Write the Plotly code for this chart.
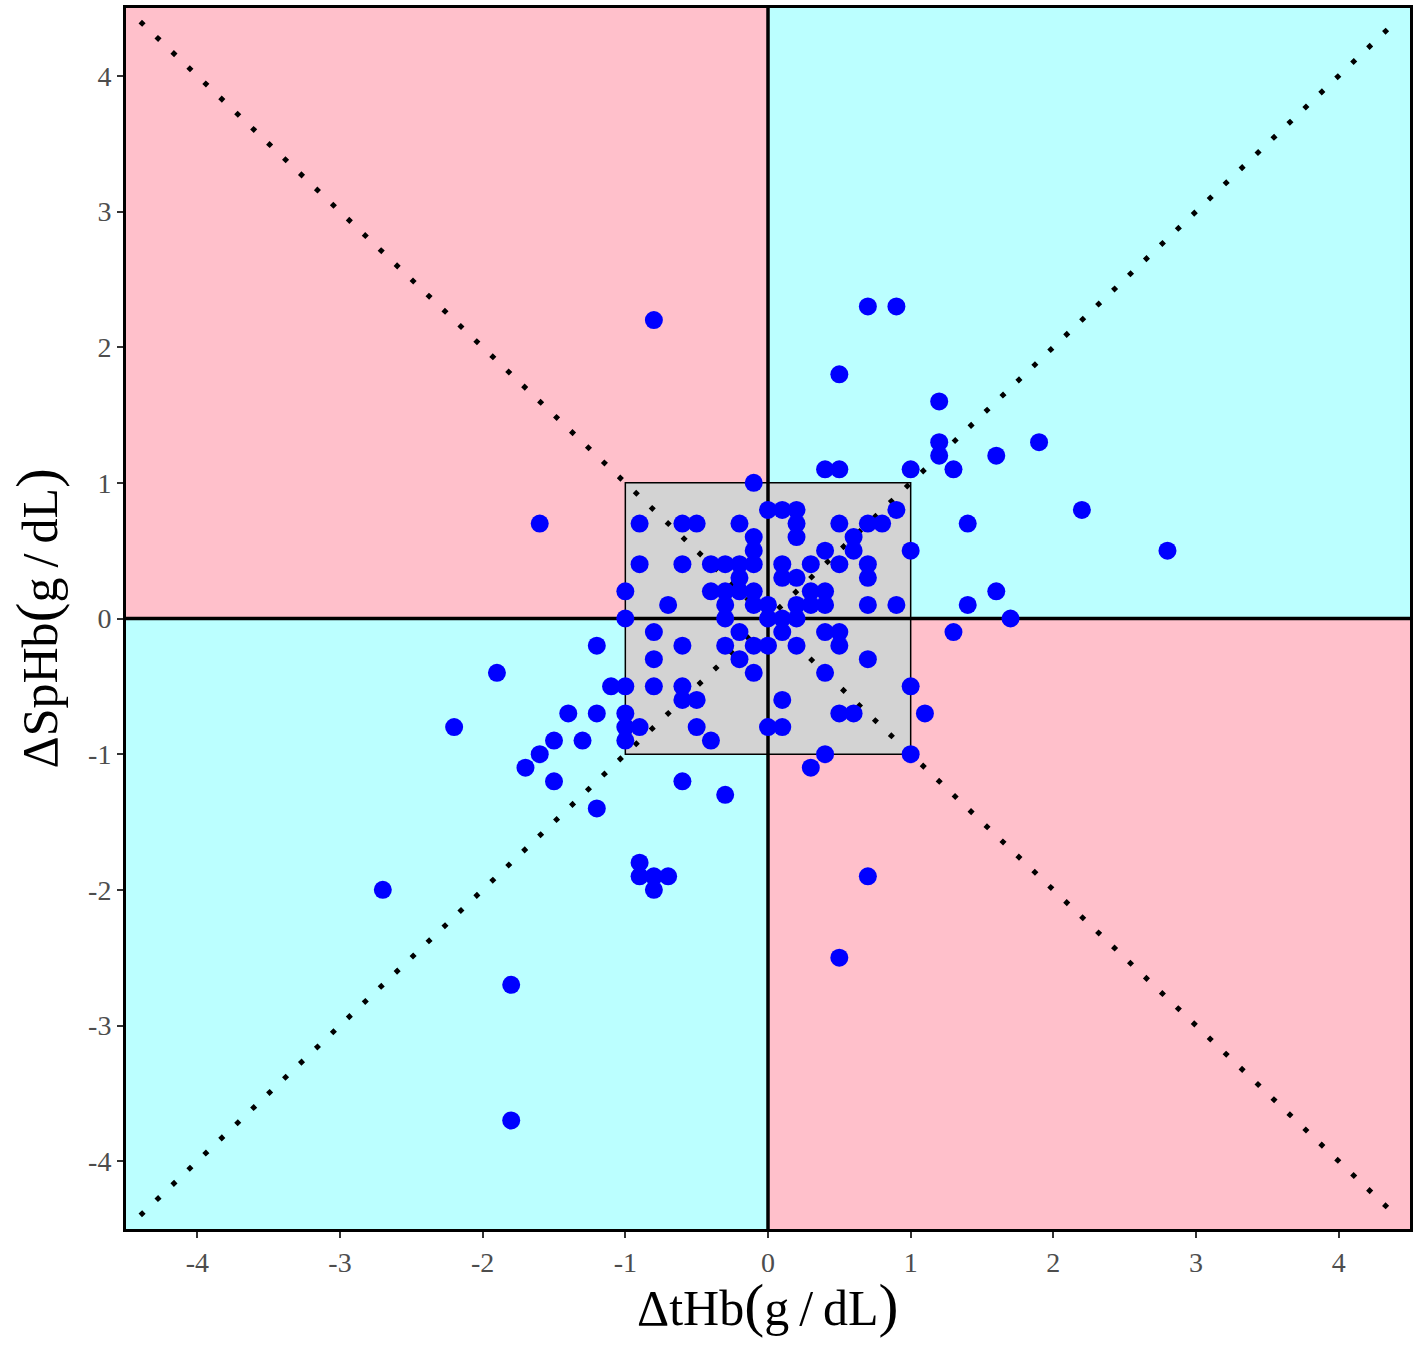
import plotly.graph_objects as go

# Data: ΔtHb (x) and ΔSpHb (y) in g/dL
dtHb = [
    -0.1, 0.0, 0.1, 0.2, 0.9,
    0.2, -0.9, -0.6, -0.5, -0.2, 0.5, 0.7, 0.8,
    0.2, -0.1, 0.6,
    -0.1, 0.4, 0.6, 1.0,
    -0.9, -0.6, -0.4, -0.3, -0.2, -0.1, 0.1, 0.3, 0.5, 0.7,
    -0.2, 0.1, 0.2, 0.7,
    -1.0, -0.4, -0.3, -0.2, -0.1, 0.3, 0.4,
    -0.7, -0.3, -0.1, 0.0, 0.2, 0.3, 0.4, 0.7, 0.9,
    -1.0, -0.3, 0.0, 0.1, 0.2,
    -0.8, -0.2, 0.1, 0.4, 0.5,
    -0.6, -0.3, -0.1, 0.0, 0.2, 0.5,
    -0.8, -0.2, 0.7,
    -0.1, 0.4,
    -1.1, -1.0, -0.8, -0.6, 1.0,
    -0.6, -0.5, 0.1,
    -1.0, 0.5, 0.6, 1.1,
    -1.0, -0.9, -0.5, 0.0, 0.1,
    -1.0, -0.4,
    0.4, 1.0,
    0.3,
    -1.2, -1.9, -1.4, -1.2, -2.2, -1.5, -1.3, -1.6, -1.7, -1.5, -1.2, -0.6, -0.3,
    -1.6, -0.8,
    -0.9, -0.9, -0.8, -0.7, -0.8,
    -2.7, -1.8, -1.8,
    0.7, 0.9, 0.5, 1.2, 1.2, 1.2, 1.0, 1.3, 0.4, 0.5, 1.6, 1.9, 2.2, 2.8, 1.4, 1.6, 1.4, 1.7, 1.3,
    0.7, 0.5,
]
dSpHb = [
    1.0, 0.8, 0.8, 0.8, 0.8,
    0.7, 0.7, 0.7, 0.7, 0.7, 0.7, 0.7, 0.7,
    0.6, 0.6, 0.6,
    0.5, 0.5, 0.5, 0.5,
    0.4, 0.4, 0.4, 0.4, 0.4, 0.4, 0.4, 0.4, 0.4, 0.4,
    0.3, 0.3, 0.3, 0.3,
    0.2, 0.2, 0.2, 0.2, 0.2, 0.2, 0.2,
    0.1, 0.1, 0.1, 0.1, 0.1, 0.1, 0.1, 0.1, 0.1,
    0.0, 0.0, 0.0, 0.0, 0.0,
    -0.1, -0.1, -0.1, -0.1, -0.1,
    -0.2, -0.2, -0.2, -0.2, -0.2, -0.2,
    -0.3, -0.3, -0.3,
    -0.4, -0.4,
    -0.5, -0.5, -0.5, -0.5, -0.5,
    -0.6, -0.6, -0.6,
    -0.7, -0.7, -0.7, -0.7,
    -0.8, -0.8, -0.8, -0.8, -0.8,
    -0.9, -0.9,
    -1.0, -1.0,
    -1.1,
    -0.2, -0.4, -0.7, -0.7, -0.8, -0.9, -0.9, -1.0, -1.1, -1.2, -1.4, -1.2, -1.3,
    0.7, 2.2,
    -1.8, -1.9, -1.9, -1.9, -2.0,
    -2.0, -2.7, -3.7,
    2.3, 2.3, 1.8, 1.6, 1.3, 1.2, 1.1, 1.1, 1.1, 1.1, 1.2, 1.3, 0.8, 0.5, 0.7, 0.2, 0.1, 0.0, -0.1,
    -1.9, -2.5,
]

tick_vals = [-4, -3, -2, -1, 0, 1, 2, 3, 4]
tick_text = ["-4", "-3", "-2", "-1", "0", "1", "2", "3", "4"]
axis_range = [-4.5, 4.5]
box_half = 1.0
diag_end = 4.4

LP = "<span style='font-size:60px'>(</span>"
RP = "<span style='font-size:60px'>)</span>"
x_title = "ΔtHb" + LP + "g\u2009/\u2009dL" + RP
y_title = "ΔSpHb" + LP + "g\u2009/\u2009dL" + RP

PINK = "#FFC0CB"
CYAN = "#BBFFFF"
GREY = "#D3D3D3"

fig = go.Figure()

dot_line = dict(color="black", width=5, dash="5px,17px")
fig.add_trace(go.Scatter(x=[-diag_end, diag_end], y=[-diag_end, diag_end], mode="lines",
                         line=dot_line, hoverinfo="skip", showlegend=False))
fig.add_trace(go.Scatter(x=[-diag_end, diag_end], y=[diag_end, -diag_end], mode="lines",
                         line=dot_line, hoverinfo="skip", showlegend=False))

fig.add_trace(go.Scatter(x=dtHb, y=dSpHb, mode="markers",
                         marker=dict(color="#0000FF", size=18, line=dict(width=0)),
                         showlegend=False))

shapes = [
    dict(type="rect", x0=-4.5, x1=0, y0=0, y1=4.5, fillcolor=PINK, line=dict(width=0), layer="below"),
    dict(type="rect", x0=0, x1=4.5, y0=-4.5, y1=0, fillcolor=PINK, line=dict(width=0), layer="below"),
    dict(type="rect", x0=0, x1=4.5, y0=0, y1=4.5, fillcolor=CYAN, line=dict(width=0), layer="below"),
    dict(type="rect", x0=-4.5, x1=0, y0=-4.5, y1=0, fillcolor=CYAN, line=dict(width=0), layer="below"),
    dict(type="rect", x0=-box_half, x1=box_half, y0=-box_half, y1=box_half, fillcolor=GREY,
         line=dict(color="black", width=1.5), layer="below"),
    dict(type="line", x0=0, x1=0, y0=-4.5, y1=4.5, line=dict(color="black", width=3.5), layer="below"),
    dict(type="line", x0=-4.5, x1=4.5, y0=0, y1=0, line=dict(color="black", width=3.5), layer="below"),
]

axis_common = dict(
    range=axis_range, tickvals=tick_vals, ticktext=tick_text,
    showgrid=False, zeroline=False,
    showline=True, mirror=True, linecolor="black", linewidth=3,
    ticks="outside", ticklen=6, tickwidth=2, tickcolor="#333333",
    tickfont=dict(family="Liberation Serif", size=28, color="#4D4D4D"),
)

title_font = dict(family="Liberation Serif", size=50, color="black")
annotations = [
    dict(text=x_title, xref="paper", yref="paper", x=0.5, y=0, xanchor="center", yanchor="middle",
         yshift=-76, showarrow=False, font=title_font),
    dict(text=y_title, xref="paper", yref="paper", x=0, y=0.5, xanchor="center", yanchor="middle",
         xshift=-90, textangle=-90, showarrow=False, font=title_font),
]

fig.update_layout(
    width=1418, height=1346,
    margin=dict(l=126, r=6, t=5, b=117),
    plot_bgcolor="white", paper_bgcolor="white",
    shapes=shapes,
    annotations=annotations,
    xaxis=dict(**axis_common),
    yaxis=dict(**axis_common),
)

fig.write_html("out.html", config={"displayModeBar": False},
               post_script="document.body.style.margin='0';document.body.style.overflow='hidden';")
